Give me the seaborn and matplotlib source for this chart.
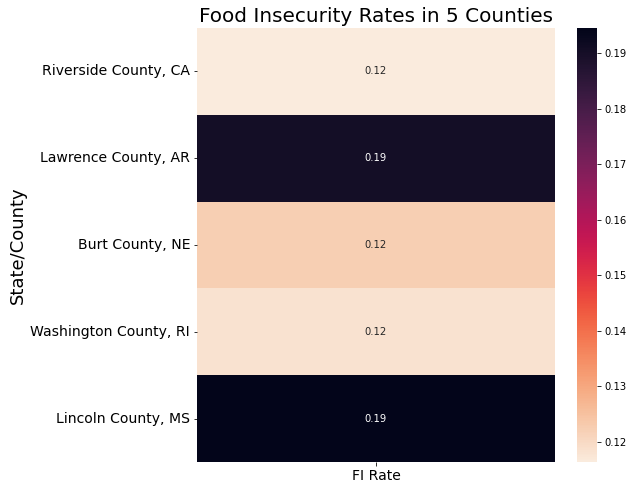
import numpy as np
import pandas as pd
import matplotlib
matplotlib.use("Agg")
import matplotlib.pyplot as plt
import seaborn as sns

# ========== DATA ==========
COUNTIES = ["Riverside County, CA", "Lawrence County, AR", "Burt County, NE",
            "Washington County, RI", "Lincoln County, MS"]
FI_RATE = [0.1164, 0.1905, 0.1225, 0.1185, 0.1945]

df = pd.DataFrame({"FI Rate": FI_RATE}, index=pd.Index(COUNTIES, name="State/County"))

fig = plt.figure(figsize=(634 / 72, 491 / 72), dpi=72)
ax = fig.add_axes([0.311, 0.059, 0.564, 0.884])
cax = fig.add_axes([0.910, 0.059, 0.0315, 0.884])

sns.heatmap(df, ax=ax, cbar_ax=cax, cmap="rocket_r", annot=True,
            annot_kws={"fontsize": 10})

ax.set_title("Food Insecurity Rates in 5 Counties", fontsize=20)
ax.set_ylabel("State/County", fontsize=18)
ax.set_xlabel("")
ax.tick_params(axis="y", labelsize=14, rotation=0)
ax.tick_params(axis="x", labelsize=14)
cax.tick_params(labelsize=10)

fig.savefig("out.png", dpi=72)
